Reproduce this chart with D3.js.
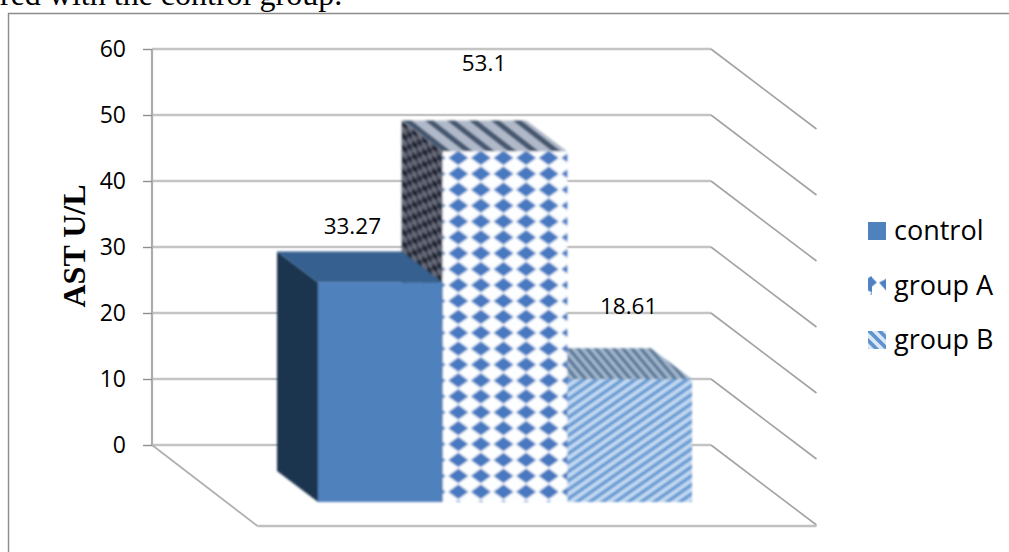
<!DOCTYPE html>
<html><head><meta charset="utf-8">
<script src="https://cdn.jsdelivr.net/npm/d3@7/dist/d3.min.js"></script>
<style>html,body{margin:0;padding:0;background:#fff;overflow:hidden}svg{display:block}</style>
</head><body><svg id="c" width="1009" height="552"></svg>
<script>
const categories = ["control","group A","group B"];
const values = [33.27,53.1,18.61];
const valueLabels = ["33.27","53.1","18.61"];
const ticks = [0,10,20,30,40,50,60];
const axisTitle = "AST U/L";
const captionText = "red with the control group.";

const svg = d3.select("#c");
const defs = svg.append("defs");
const blur = defs.append("filter").attr("id","soft").attr("x","-5%").attr("y","-5%").attr("width","110%").attr("height","110%");
blur.append("feGaussianBlur").attr("stdDeviation",0.9);

// ---- patterns
function pat(id,w,h,tr){
  const p = defs.append("pattern").attr("id",id).attr("patternUnits","userSpaceOnUse").attr("width",w).attr("height",h);
  if(tr) p.attr("patternTransform",tr);
  return p;
}
// group A front: blue diamonds on white
let p = pat("aFront",22.6,15.9,"translate(447 150)");
p.append("rect").attr("width",22.6).attr("height",15.9).attr("fill","#fdfeff");
p.append("path").attr("d","M1.3 7.9 L11.3 0.6 L21.3 7.9 L11.3 15.2Z").attr("fill","#4678c0");
// group A side: dark dots on slate, sheared along depth
p = pat("aSide",10,12,"translate(402 120) skewY(37.5)");
p.append("rect").attr("width",10).attr("height",12).attr("fill","#686a78");
p.append("rect").attr("width",5.5).attr("height",6).attr("fill","#1d2433");
p.append("rect").attr("x",5).attr("y",6).attr("width",5).attr("height",6).attr("fill","#232a3a");
// group A top
p = pat("aTop",22,31,"translate(402 120) skewX(52)");
p.append("rect").attr("width",22).attr("height",31).attr("fill","#b0b9c9");
p.append("rect").attr("width",9).attr("height",31).attr("fill","#45566e");
// group B front: rising stripes
p = pat("bFront",7.4,7.4,"translate(567 380) rotate(-35)");
p.append("rect").attr("width",7.4).attr("height",7.4).attr("fill","#c6dcf3");
p.append("rect").attr("width",7.4).attr("height",3.7).attr("fill","#669ad2");
// group B top: falling stripes
p = pat("bTop",9,31,"translate(567 349) skewX(40)");
p.append("rect").attr("width",9).attr("height",31).attr("fill","#a5b8cc");
p.append("rect").attr("width",4.5).attr("height",31).attr("fill","#58789a");
// legend swatches
p = pat("aKey",18,18,"translate(868 277)");
p.append("rect").attr("width",18).attr("height",18).attr("fill","#fff");
p.append("path").attr("d","M0 3 L5 8 L0 12Z M18 0 L18 18 L14 16 L7 8 L13 5Z").attr("fill","#4f81c4");
p = pat("bKey",7.4,7.4,"translate(868 332) rotate(45)");
p.append("rect").attr("width",7.4).attr("height",7.4).attr("fill","#dce8f6");
p.append("rect").attr("width",7.4).attr("height",3.7).attr("fill","#5f93d0");

const fills = {
  front:["#4f81bd","url(#aFront)","url(#bFront)"],
  top:["#34608f","url(#aTop)","url(#bTop)"],
  side:["#1c3550","url(#aSide)","#4f6f90"],
  key:["#4f81bd","url(#aKey)","url(#bKey)"]
};

// ---- frame and caption
svg.append("path").attr("d","M8.5 552 V13.5 H1009").attr("fill","none").attr("stroke","#8c8c8c").attr("stroke-width",1.4);
svg.append("text").attr("x",0).attr("y",5).attr("font-family","Liberation Serif").attr("font-size",32).attr("fill","#000").text(captionText);

// ---- back wall scale / axis
const wallLeft = 152, wallRight = 711, depthX = 105.5, depthY = 80;
const yWall = d3.scaleLinear().domain([0,60]).range([445,49]);
const grid = svg.append("g");
grid.selectAll(".g").data(ticks).join("line")
  .attr("x1",wallLeft).attr("x2",wallRight).attr("y1",d=>yWall(d)).attr("y2",d=>yWall(d))
  .attr("stroke","#c4c4c4").attr("stroke-width",2.6);
grid.selectAll(".d").data(ticks).join("line").attr("class","d")
  .attr("x1",wallRight).attr("y1",d=>yWall(d))
  .attr("x2",wallRight+depthX).attr("y2",d=>yWall(d)+depthY)
  .attr("stroke","#a2a2a2").attr("stroke-width",1.6);
// floor
grid.append("path").attr("d",`M${wallLeft} ${yWall(0)} L${wallLeft+depthX} ${yWall(0)+depthY+1}`)
  .attr("fill","none").attr("stroke","#b0b0b0").attr("stroke-width",1.8);
grid.append("path").attr("d",`M${wallLeft+depthX} ${yWall(0)+depthY+1} H${wallRight+depthX}`)
  .attr("fill","none").attr("stroke","#c0c0c0").attr("stroke-width",2.4);

const axis = d3.axisLeft(yWall).tickValues(ticks).tickSize(9).tickPadding(17).tickFormat(d3.format("d"));
const ag = svg.append("g").attr("transform",`translate(${wallLeft},0)`).call(axis);
ag.select(".domain").attr("stroke","#acacac").attr("stroke-width",2.2).attr("d",`M0 ${yWall(60)} V${yWall(0)}`);
ag.selectAll(".tick line").attr("stroke","#8e8e8e").attr("stroke-width",1.4);
ag.selectAll(".tick text").attr("font-family","Open Sans").attr("font-size",23).attr("fill","#000");

svg.append("text").attr("transform","translate(85,246) rotate(-90)").attr("text-anchor","middle")
  .attr("font-family","Liberation Serif").attr("font-weight","bold").attr("font-size",32).attr("fill","#000").text(axisTitle);

// ---- bars
const x = d3.scaleBand().domain(categories).range([318,692]).padding(0);
const yBar = d3.scaleLinear().domain([0,60]).range([502,106]);
const dx = 41, dy = 31;
const rows = categories.map((c,i)=>({c,i,v:values[i]}));
const drawOrder = [2,1,0];
const bars = svg.append("g").attr("filter","url(#soft)");
drawOrder.forEach(i=>{
  const r = rows[i], x0 = x(r.c), x1 = x0 + x.bandwidth(), yt = yBar(r.v), yb = yBar(0);
  const g = bars.append("g");
  g.append("path").attr("d",`M${x0} ${yt} L${x0-dx} ${yt-dy} V${yb-dy} L${x0} ${yb}Z`).attr("fill",fills.side[i]);
  g.append("path").attr("d",`M${x0} ${yt} L${x0-dx} ${yt-dy} H${x1-dx} L${x1} ${yt}Z`).attr("fill",fills.top[i]);
  g.append("rect").attr("x",x0).attr("y",yt).attr("width",x.bandwidth()).attr("height",yb-yt).attr("fill",fills.front[i]);
});

// ---- data labels
const labelDx = [-28,-21,-1], labelDy = [-48,-81,-65];
svg.append("g").selectAll("text").data(rows).join("text")
  .attr("x",d=>x(d.c)+x.bandwidth()/2+labelDx[d.i])
  .attr("y",d=>yBar(d.v)+labelDy[d.i])
  .attr("text-anchor","middle").attr("font-family","Open Sans").attr("font-size",22.5).attr("fill","#000")
  .text(d=>valueLabels[d.i]);

// ---- legend
const legendY = d3.scalePoint().domain(categories).range([231,340]);
const lg = svg.append("g").selectAll("g").data(rows).join("g").attr("transform",d=>`translate(868,${legendY(d.c)})`);
lg.append("rect").attr("x",0).attr("y",-9).attr("width",18).attr("height",18).attr("fill",d=>fills.key[d.i]);
lg.append("text").attr("x",26).attr("y",9).attr("font-family","Open Sans").attr("font-size",27).attr("fill","#000").text(d=>d.c);
</script></body></html>
